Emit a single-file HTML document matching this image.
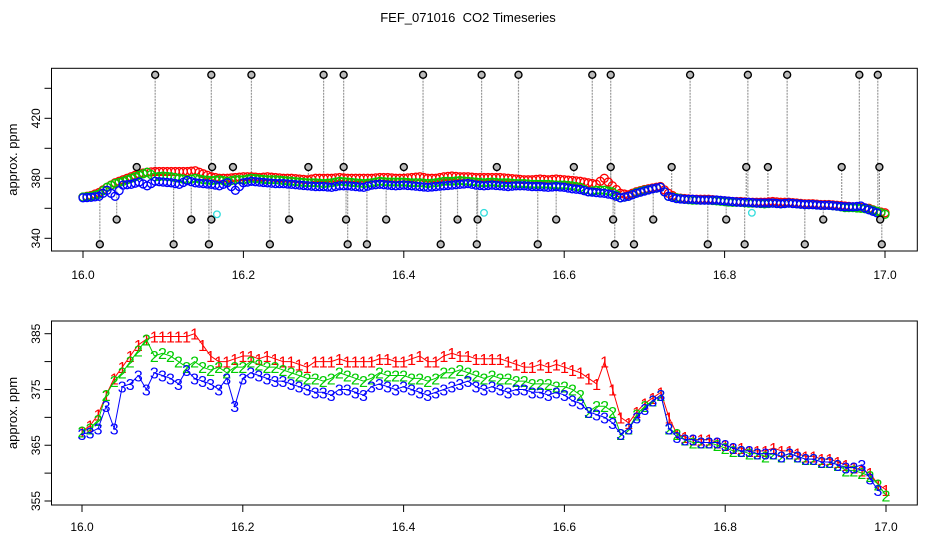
<!DOCTYPE html>
<html><head><meta charset="utf-8"><style>
body{margin:0;background:#fff;}
svg{display:block;font-family:"Liberation Sans",sans-serif;}
</style></head><body>
<svg id="chart" width="936" height="540" xmlns="http://www.w3.org/2000/svg">
<text x="468" y="22" text-anchor="middle" font-size="13">FEF_071016 &#160;CO2 Timeseries</text>
<g id="topPanel"></g>
<g id="botPanel"></g>
</svg>
<script>
const series1 = [367.5,368.5,370.5,374,377,379,381,383,384,384.5,384.5,384.5,384.5,384.5,385,383,381,380,380,380.5,381,381,380.5,381,380.5,380,380,379.5,379,380,380,380,380.5,380,380,380,380,380.5,380.5,380,380,380.5,381,380,380,381,381.5,381,381,380.5,380.5,380.5,380.5,380,379.5,379,379,379.5,379,379.5,379,378.5,378,377,376,380,375,370,369,371,372.5,373.5,374.5,370,367,366.5,366,366,366,365.5,365,364.5,364.5,364,364,364,364.5,364,364,363.5,363,363,362.5,362.5,362,361.5,361,360.5,360,358,357];
const series2 = [367.5,368,369.5,374,376.5,378,380,382,384,381,381.5,381,380,379,380,379,378.5,379,378,379,379,380,379.5,379,379,378.5,378,377.5,377,377,376.5,377,378,377.5,377,376.5,377,378,377.5,377.5,377.5,377,377,376.5,377,378,378,378.5,378,377.5,377,377.5,377,377,376.5,376.5,376,376,376,375.5,375.5,375,374,371,372,372,371,367,368,370.5,372,373,374,368,367,366,365.5,365.5,365.5,365,364.5,364,364,363.5,363.5,363,363.5,363,363.5,363,362.5,362.5,362,362,361.5,360.5,360.5,360,359.5,358,356];
const series3 = [367,367.3,368,372,368,375.5,376,377.5,375,378,377.5,377,376,378.5,377,376.5,376,375,377,372,377,378,377.5,377,376.5,376.5,376,375.5,375,374.5,374.5,374,375,375,374.5,374,375.5,376,375.5,375,375.5,375,374.5,374,374.5,375,375.5,376,376.5,375.5,375,375.5,375,374.5,375,375,374.5,374.5,374,374.5,374,373,372.5,371,370.5,370,369,367,368,370,371.5,373,374,368,366.5,366,366,365.5,365.5,365.5,365,364.5,364,364,363.5,363.5,363.5,363,363.5,363,362.5,362.5,362,362,361.5,361,361,361.5,359,357];
const spikeTimes = [16.09,16.16,16.21,16.30,16.325,16.424,16.497,16.543,16.635,16.658,16.757,16.829,16.878,16.968,16.991,
 16.067,16.161,16.187,16.281,16.325,16.4,16.516,16.612,16.658,16.734,16.827,16.854,16.946,16.993,
 16.042,16.135,16.16,16.257,16.328,16.378,16.467,16.492,16.59,16.661,16.711,16.802,16.923,16.994,
 16.021,16.113,16.157,16.233,16.33,16.354,16.446,16.491,16.567,16.663,16.687,16.779,16.825,16.9,16.996];
const spikeValues = [449,449,449,449,449,449,449,449,449,449,449,449,449,449,449,
 387.5,387.5,387.5,387.5,387.5,387.5,387.5,387.5,387.5,387.5,387.5,387.5,387.5,387.5,
 352.5,352.5,352.5,352.5,352.5,352.5,352.5,352.5,352.5,352.5,352.5,352.5,352.5,352.5,
 336,336,336,336,336,336,336,336,336,336,336,336,336,336,336];
const flagTimes = [16.167,16.5,16.834];
const flagValues = [356,357,357];
const xTicks = [16.0,16.2,16.4,16.6,16.8,17.0];
const topYTicks = [340,360,380,400,420,440];
const topYLabels = [340,380,420];
const botYTicks = [355,360,365,370,375,380,385];
const botYLabels = [355,365,375,385];

const NS="http://www.w3.org/2000/svg";
function mk(parent,tag,attrs){const e=document.createElementNS(NS,tag);for(const k in attrs)e.setAttribute(k,attrs[k]);parent.appendChild(e);return e;}
const tX=t=>83+(t-16)*802;
const tY=v=>238.3-(v-340)*1.5;
const bX=t=>82+(t-16)*804;
const bY=v=>333.7+(385-v)*5.577;
const colors=["#ff0000","#00cc00","#0000ff"];
const allSeries=[series1,series2,series3];
const topG=document.getElementById('topPanel'), botG=document.getElementById('botPanel');

function axes(g,L,T,R,B,xf,yf,yt,yl,labY,prefix){
  const box=mk(g,'rect',{x:L,y:T,width:R-L,height:B-T,fill:'none',stroke:'#000','stroke-width':1});
  
  
  xTicks.forEach(v=>{
    const x=xf(v);
    const tk=mk(g,'line',{x1:x,x2:x,y1:B,y2:B+7,stroke:'#000'});
    
    
    const tl=mk(g,'text',{x:x,y:labY,'text-anchor':'middle','font-size':12});
    tl.textContent=v.toFixed(1);
    
    
  });
  yt.forEach(v=>{
    const y=yf(v);
    const tk=mk(g,'line',{x1:L-7,x2:L,y1:y,y2:y,stroke:'#000'});
    
    
  });
  yl.forEach(v=>{
    const y=yf(v);
    const tl=mk(g,'text',{x:0,y:0,'text-anchor':'middle','font-size':12,transform:`translate(40,${y}) rotate(-90)`});
    tl.textContent=v;
    
    
  });
  const yt2=mk(g,'text',{x:0,y:0,'text-anchor':'middle','font-size':13,transform:`translate(17,${(T+B)/2}) rotate(-90)`});
  yt2.textContent='approx. ppm';
  
  
}
axes(topG,51.5,68.3,917.3,251,tX,tY,topYTicks,topYLabels,279,'top');
axes(botG,51.5,321,917.3,505,bX,bY,botYTicks,botYLabels,531,'bottom');

function baseAt(t){const i=Math.max(0,Math.min(series2.length-1,Math.round((t-16)*100)));return series2[i];}
spikeTimes.forEach((t,i)=>{
  const x=tX(t);
  const ln=mk(topG,'line',{x1:x,x2:x,y1:tY(spikeValues[i]),y2:tY(baseAt(t)),stroke:'#999','stroke-width':1.2,'stroke-dasharray':'2,1'});
  
  
});
allSeries.forEach((s,k)=>{
  s.forEach((v,i)=>{
    const c=mk(topG,'circle',{cx:tX(16+i*0.01),cy:tY(v),r:4,fill:'none',stroke:colors[k],'stroke-width':1.3});
    
    
    if(i<s.length-1){
      const c2=mk(topG,'circle',{cx:tX(16+i*0.01+0.005),cy:tY((v+s[i+1])/2),r:4,fill:'none',stroke:colors[k],'stroke-width':1.3});
      
      
    }
  });
});
spikeTimes.forEach((t,i)=>{
  const c=mk(topG,'circle',{cx:tX(t),cy:tY(spikeValues[i]),r:3.5,fill:'#bbb',stroke:'#000','stroke-width':1.4});
  
  
});
flagTimes.forEach((t,i)=>{
  const c=mk(topG,'circle',{cx:tX(t),cy:tY(flagValues[i]),r:3.3,fill:'none',stroke:'#33dddd','stroke-width':1.3});
  
  
});
allSeries.forEach((s,k)=>{
  const pts=s.map((v,i)=>bX(16+i*0.01)+','+bY(v)).join(' ');
  const pl=mk(botG,'polyline',{points:pts,fill:'none',stroke:colors[k],'stroke-width':1});
  
  
  s.forEach((v,i)=>{
    const tx=mk(botG,'text',{x:bX(16+i*0.01),y:bY(v)+6,'text-anchor':'middle','font-size':16,fill:colors[k]});
    tx.textContent=String(k+1);
    
    
  });
});
</script>
</body></html>
